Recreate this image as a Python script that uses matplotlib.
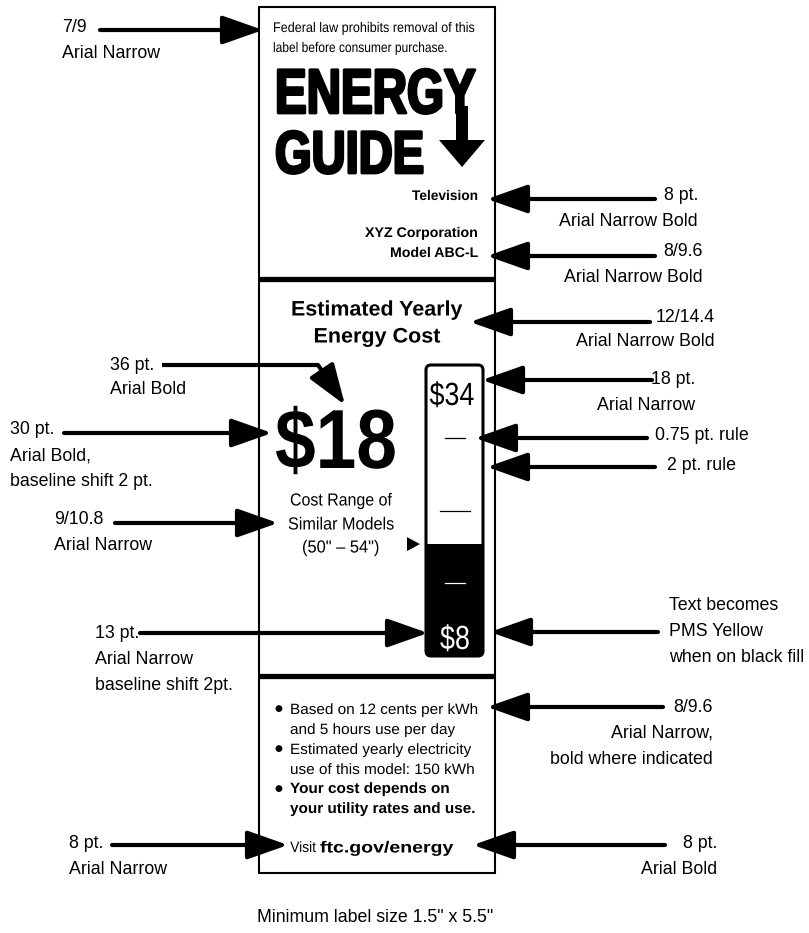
import matplotlib.pyplot as plt
from matplotlib.patches import Rectangle, FancyBboxPatch, Polygon
from matplotlib.transforms import Affine2D
import matplotlib.patheffects as pe

# label content
federal_note = ["Federal law prohibits removal of this", "label before consumer purchase."]
product = "Television"
maker = "XYZ Corporation"
model = "Model ABC-L"
yearly_cost = 18
range_low = 8
range_high = 34
size_low, size_high = 50, 54
cents_per_kwh = 12
hours_per_day = 5
yearly_kwh = 150
tick_fracs = [0.25, 0.5, 0.75]   # 0.75 pt. rules along the cost scale

# spec call-outs (text lines) on each side of the label
left_notes = [["7/9", "Arial Narrow"],
              ["36 pt.", "Arial Bold"],
              ["30 pt.", "Arial Bold,", "baseline shift 2 pt."],
              ["9/10.8", "Arial Narrow"],
              ["13 pt.", "Arial Narrow", "baseline shift 2pt."],
              ["8 pt.", "Arial Narrow"]]
right_notes = [["8 pt.", "Arial Narrow Bold"],
               ["8/9.6", "Arial Narrow Bold"],
               ["12/14.4", "Arial Narrow Bold"],
               ["18 pt.", "Arial Narrow"],
               ["0.75 pt. rule"],
               ["2 pt. rule"],
               ["Text becomes", "PMS Yellow", "when on black fill"],
               ["8/9.6", "Arial Narrow,", "bold where indicated"],
               ["8 pt.", "Arial Bold"]]
caption = 'Minimum label size 1.5" x 5.5"'

# layout (pixels): text x, first line y, line step, [align], arrow start, arrow tip
left_layout = [(62, 27, 26, (100, 30), (263, 30)),
               (110, 365, 24, (162, 365), (345, 405)),
               (10, 430, 26, (64, 433), (272, 433)),
               (54, 520, 25, (115, 523), (278, 523)),
               (95, 633, 26, (140, 633), (428, 633)),
               (69, 843, 26, (112, 845), (288, 845))]
right_layout = [(698, 196, 26, 'right', (655, 199), (487, 199)),
                (703, 252, 25, 'right', (655, 256), (487, 256)),
                (715, 317, 25, 'right', (650, 322), (470, 322)),
                (695, 380, 25, 'right', (652, 380), (482, 380)),
                (655, 435, 25, 'left', (647, 438), (475, 438)),
                (667, 465, 25, 'left', (655, 467), (487, 467)),
                (669, 605, 26, 'left', (658, 632), (490, 632)),
                (713, 707, 26.5, 'right', (663, 707), (487, 707)),
                (717, 843, 27, 'right', (665, 845), (473, 845))]

SANS = ['Liberation Sans', 'DejaVu Sans']

fig = plt.figure(figsize=(8.09, 9.33), dpi=100)
ax = fig.add_axes([0, 0, 1, 1])
ax.set_xlim(0, 809)
ax.set_ylim(933, 0)
ax.axis('off')
renderer = fig.canvas.get_renderer()


class Narrow(pe.AbstractPathEffect):
    """squeeze glyphs horizontally about x0 (Arial Narrow look), optional stroke for heavier type"""

    def __init__(self, x0, sx, stroke=0):
        super().__init__()
        self.x0, self.sx, self.stroke = x0, sx, stroke

    def draw_path(self, renderer, gc, tpath, affine, rgbFace=None):
        squeeze = Affine2D().translate(-self.x0, 0).scale(self.sx, 1).translate(self.x0, 0)
        gc0 = renderer.new_gc()
        gc0.copy_properties(gc)
        if self.stroke:
            gc0.set_linewidth(self.stroke)
            gc0.set_foreground(rgbFace)
        renderer.draw_path(gc0, tpath, affine + squeeze, rgbFace)
        gc0.restore()


def label_text(x, y, s, cap, width=None, sx=None, stroke=0, **kw):
    """label type: size from cap height (px), squeezed to the measured width (px)"""
    t = ax.text(x, y, s, fontsize=cap / 0.716 * 0.72, family=SANS, **kw)
    if sx is None:
        sx = width / t.get_window_extent(renderer).width
    t.set_path_effects([Narrow(x, sx, stroke)])
    return sx


def arrow(p0, p1):
    ax.annotate('', xy=p1, xytext=p0,
                arrowprops=dict(arrowstyle='-|>,head_length=1.25,head_width=0.44',
                                mutation_scale=20, lw=3, color='black',
                                shrinkA=0, shrinkB=0))


# label outline and section rules
ax.add_patch(Rectangle((259, 7), 236, 866, fill=False, lw=1.5, ec='black'))
for yy in [279, 676]:
    ax.plot([259, 495], [yy, yy], color='black', lw=3.8, solid_capstyle='butt')

# top section
label_text(273, 28, federal_note[0], 10, width=204, va='center')
label_text(273, 48, federal_note[1], 10, width=176, va='center')

label_text(275, 113, "ENERGY", 45, width=201, stroke=2.0, weight='bold', va='baseline')
label_text(275, 173, "GUIDE", 43, width=149, stroke=2.0, weight='bold', va='baseline')
ax.add_patch(Rectangle((456, 106), 12, 36, fc='black', ec='none'))
ax.add_patch(Polygon([(439, 140), (485, 140), (462, 167)], fc='black', ec='none'))

label_text(478, 196, product, 10, width=66, weight='bold', ha='right', va='center')
label_text(478, 233, maker, 10, width=113, weight='bold', ha='right', va='center')
label_text(478, 253, model, 10, width=88, weight='bold', ha='right', va='center')

# middle section
label_text(377, 310, "Estimated Yearly", 15, width=172, weight='bold', ha='center', va='center')
label_text(377, 337, "Energy Cost", 15, width=127, weight='bold', ha='center', va='center')

label_text(336, 468, f"${yearly_cost}", 60, width=122, weight='bold', ha='center', va='baseline')

label_text(341, 501, "Cost Range of", 12.5, width=102, ha='center', va='center')
label_text(341, 525, "Similar Models", 12.5, width=106, ha='center', va='center')
label_text(341, 548, f'({size_low}" – {size_high}")', 12.5, width=78, ha='center', va='center')

# cost scale bar
bar_x, bar_w = 426, 57
bar_top, bar_bot = 365, 656


def y_of(v):
    return bar_bot - (v - range_low) / (range_high - range_low) * (bar_bot - bar_top)


bar = FancyBboxPatch((bar_x, bar_top), bar_w, bar_bot - bar_top,
                     boxstyle='round,pad=0,rounding_size=5', fc='white', ec='none')
ax.add_patch(bar)
y_fill = y_of(yearly_cost)
fill = Rectangle((bar_x, y_fill), bar_w, bar_bot - y_fill, fc='black', ec='none')
ax.add_patch(fill)
fill.set_clip_path(bar)
ax.add_patch(FancyBboxPatch((bar_x, bar_top), bar_w, bar_bot - bar_top,
                            boxstyle='round,pad=0,rounding_size=5', fc='none',
                            ec='black', lw=2.2, zorder=3))
for f in tick_fracs:
    v = range_low + f * (range_high - range_low)
    c = 'white' if v < yearly_cost else 'black'
    half = 15 if f == 0.5 else 10
    ax.plot([455 - half, 455 + half], [y_of(v), y_of(v)], color=c, lw=0.9, zorder=4)

label_text(452, y_of(range_high) + 40, f"${range_high}", 23, width=45,
           ha='center', va='baseline', zorder=4)
label_text(455, y_of(range_low) - 7, f"${range_low}", 24, width=30,
           color='white', ha='center', va='baseline', zorder=4)

# pointer at the cost level
ax.add_patch(Polygon([(407, y_fill - 7), (407, y_fill + 7), (420, y_fill)],
                     fc='black', ec='none'))

# bottom section
bullets = [(f"Based on {cents_per_kwh} cents per kWh", 'normal', True),
           (f"and {hours_per_day} hours use per day", 'normal', False),
           ("Estimated yearly electricity", 'normal', True),
           (f"use of this model: {yearly_kwh} kWh", 'normal', False),
           ("Your cost depends on", 'bold', True),
           ("your utility rates and use.", 'bold', False)]
bullet_y = [710, 730, 750, 770, 789, 809]
sx = label_text(290, bullet_y[0], bullets[0][0], 10.7, width=187, va='center')
for (txt, wt, dot), yy in zip(bullets[1:], bullet_y[1:]):
    label_text(290, yy, txt, 10.7, sx=sx, weight=wt, va='center')
for (txt, wt, dot), yy in zip(bullets, bullet_y):
    if dot:
        ax.text(278, yy - 1, "●", family='DejaVu Sans', fontsize=6.5, ha='center', va='center')

label_text(316, 848, "Visit", 10.7, sx=0.92, ha='right', va='center')
label_text(320, 848, "ftc.gov/energy", 11.5, width=133, weight='bold', va='center')

# call-outs
for lines, (x, y0, step, p0, p1) in zip(left_notes, left_layout):
    for i, s in enumerate(lines):
        ax.text(x, y0 + i * step, s, family=SANS, fontsize=12.8, va='center')
for lines, (x, y0, step, ha, p0, p1) in zip(right_notes, right_layout):
    for i, s in enumerate(lines):
        ax.text(x, y0 + i * step, s, family=SANS, fontsize=12.8, ha=ha, va='center')

for i, (x, y0, step, p0, p1) in enumerate(left_layout):
    if i == 1:
        # bent arrow down to the big cost figure
        ax.plot([p0[0], 318], [p0[1], p0[1]], color='black', lw=3, solid_capstyle='butt')
        arrow((318, p0[1]), p1)
    else:
        arrow(p0, p1)
for x, y0, step, ha, p0, p1 in right_layout:
    arrow(p0, p1)

ax.text(375, 917, caption, family=SANS, fontsize=12.8, ha='center', va='center')

fig.savefig('out.png', dpi=100)
